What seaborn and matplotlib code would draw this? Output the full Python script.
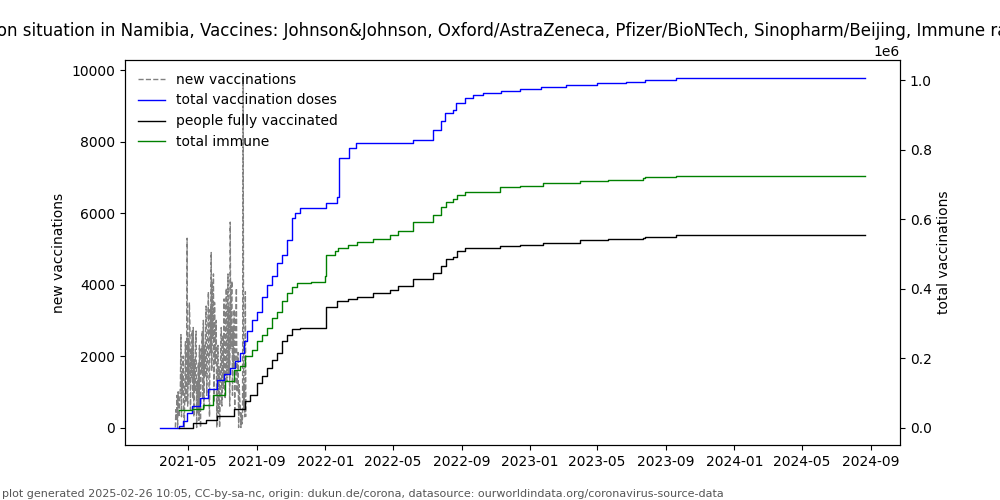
import matplotlib
matplotlib.use("Agg")
import matplotlib.pyplot as plt
import matplotlib.dates as mdates
import seaborn as sns
import pandas as pd

# ---------------- data ----------------
new_start = "2021-04-08"
new_vaccinations = [
    0, 500, 200, 900, 0, 1000, 600, 300, 800, 1200,
    2600, 300, 1500, 900, 2000, 600, 0, 1100, 2400, 700,
    1800, 5300, 600, 2500, 1200, 3500, 2900, 500, 2200, 1400,
    2700, 800, 2800, 300, 1900, 1000, 2400, 2700, 0, 1300,
    400, 1800, 200, 2300, 700, 0, 2200, 1500, 2700, 800,
    3000, 500, 2300, 1400, 2900, 3400, 900, 1900, 2600, 3800,
    1200, 300, 3300, 2100, 4900, 1600, 4100, 2500, 4300, 700,
    3500, 1800, 2400, 3000, 0, 1500, 2300, 400, 1700, 0,
    900, 2200, 2800, 600, 1900, 2600, 1100, 3600, 2000, 800,
    3100, 3900, 1300, 2700, 4300, 1500, 3400, 600, 5750, 2200,
    3700, 4100, 900, 2800, 1700, 3300, 500, 2400, 3000, 3900,
    1000, 1600, 2100, 0, 1200, 800, 600, 0, 400, 100,
    300, 9800, 500, 1200, 300, 3800, 300,
]

total_dates = [
    "2021-03-12", "2021-04-14", "2021-04-22", "2021-04-29", "2021-05-08",
    "2021-05-22", "2021-06-05", "2021-06-21", "2021-07-03", "2021-07-15",
    "2021-07-24", "2021-08-02", "2021-08-09", "2021-08-14", "2021-08-23",
    "2021-08-31", "2021-09-09", "2021-09-18", "2021-09-27", "2021-10-06",
    "2021-10-15", "2021-10-24", "2021-11-02", "2021-11-08", "2021-11-17",
    "2022-01-02", "2022-01-21", "2022-01-25", "2022-02-12", "2022-02-24",
    "2022-06-06", "2022-07-12", "2022-07-27", "2022-08-02", "2022-08-17",
    "2022-08-23", "2022-09-07", "2022-09-21", "2022-10-09", "2022-11-10",
    "2022-12-14", "2023-01-20", "2023-03-07", "2023-04-30", "2023-06-22",
    "2023-07-25", "2023-09-19", "2024-08-21",
]
total_doses = [
    0, 5000, 20000, 43000, 62000,
    86000, 112000, 138000, 155000, 172000,
    192000, 216000, 250000, 277000, 310000,
    334000, 377000, 411000, 435000, 473000,
    497000, 540000, 603000, 617000, 631000,
    646000, 665000, 775000, 804000, 818000,
    828000, 858000, 883000, 906000, 914000,
    935000, 949000, 957000, 962000, 969000,
    976000, 981000, 986000, 991000, 995000,
    1002000, 1008000, 1008000,
]

people_dates = [
    "2021-04-14", "2021-05-10", "2021-06-01", "2021-06-21", "2021-07-21",
    "2021-08-11", "2021-08-19", "2021-08-31", "2021-09-09", "2021-09-18",
    "2021-09-27", "2021-10-06", "2021-10-15", "2021-10-24", "2021-11-02",
    "2021-11-17", "2022-01-02", "2022-01-21", "2022-02-11", "2022-02-26",
    "2022-03-27", "2022-04-26", "2022-05-11", "2022-06-07", "2022-07-12",
    "2022-07-27", "2022-08-04", "2022-08-17", "2022-08-24", "2022-09-07",
    "2022-11-08", "2022-12-14", "2023-01-25", "2023-03-31", "2023-05-20",
    "2023-07-22", "2023-07-25", "2023-09-19", "2024-08-21",
]
people_fully = [
    0, 13500, 22000, 33000, 52000,
    76000, 95000, 128000, 147000, 172000,
    195000, 215000, 248000, 267000, 284000,
    286000, 346000, 363000, 370000, 377000,
    387000, 397000, 408000, 429000, 446000,
    464000, 485000, 492000, 507000, 516000,
    523000, 526000, 531000, 540000, 543000,
    545000, 550000, 553000, 553000,
]

immune_dates = [
    "2021-04-14", "2021-05-08", "2021-05-28", "2021-06-15", "2021-07-06",
    "2021-07-21", "2021-08-02", "2021-08-11", "2021-08-23", "2021-08-31",
    "2021-09-09", "2021-09-18", "2021-09-27", "2021-10-06", "2021-10-15",
    "2021-10-24", "2021-11-02", "2021-11-11", "2021-12-07", "2021-12-16",
    "2021-12-31", "2022-01-02", "2022-01-18", "2022-01-24", "2022-02-11",
    "2022-02-26", "2022-03-27", "2022-04-26", "2022-05-11", "2022-06-07",
    "2022-07-12", "2022-07-27", "2022-08-04", "2022-08-17", "2022-08-24",
    "2022-09-07", "2022-11-08", "2022-12-14", "2023-01-25", "2023-03-31",
    "2023-05-20", "2023-07-22", "2023-07-25", "2023-09-19", "2024-08-21",
]
total_immune = [
    49000, 54000, 66000, 95000, 133000,
    167000, 176000, 205000, 224000, 248000,
    267000, 286000, 315000, 334000, 363000,
    387000, 406000, 416000, 418000, 420000,
    435000, 497000, 507000, 516000, 525000,
    533000, 542000, 555000, 567000, 593000,
    612000, 636000, 650000, 657000, 670000,
    679000, 692000, 696000, 703000, 710000,
    714000, 718000, 722000, 725000, 725000,
]

title = ("Vaccination situation in Namibia, Vaccines: Johnson&Johnson, Oxford/AstraZeneca, "
         "Pfizer/BioNTech, Sinopharm/Beijing, Immune rate: 28.44 %")
footer = ("plot generated 2025-02-26 10:05, CC-by-sa-nc, origin: dukun.de/corona, "
          "datasource: ourworldindata.org/coronavirus-source-data")

# ---------------- frames ----------------
df_new = pd.DataFrame({
    "date": pd.date_range(new_start, periods=len(new_vaccinations), freq="D"),
    "value": new_vaccinations,
})
df_doses = pd.DataFrame({"date": pd.to_datetime(total_dates), "value": total_doses})
df_people = pd.DataFrame({"date": pd.to_datetime(people_dates), "value": people_fully})
df_immune = pd.DataFrame({"date": pd.to_datetime(immune_dates), "value": total_immune})

# ---------------- plot ----------------
fig, ax = plt.subplots(figsize=(10, 5), dpi=100)
fig.subplots_adjust(left=0.125, right=0.9, bottom=0.11, top=0.88)
ax2 = ax.twinx()

sns.lineplot(data=df_new, x="date", y="value", ax=ax, color="gray",
             linestyle="--", linewidth=1, estimator=None, label="new vaccinations",
             legend=False)
sns.lineplot(data=df_doses, x="date", y="value", ax=ax2, color="blue",
             linewidth=1, estimator=None, drawstyle="steps-post",
             label="total vaccination doses", legend=False)
sns.lineplot(data=df_people, x="date", y="value", ax=ax2, color="black",
             linewidth=1, estimator=None, drawstyle="steps-post",
             label="people fully vaccinated", legend=False)
sns.lineplot(data=df_immune, x="date", y="value", ax=ax2, color="green",
             linewidth=1, estimator=None, drawstyle="steps-post",
             label="total immune", legend=False)

ax.set_xlabel("")
ax2.set_xlabel("")
ax.set_ylabel("new vaccinations")
ax2.set_ylabel("total vaccinations")
ax.set_title(title)

ax.xaxis.set_major_locator(mdates.MonthLocator(bymonth=[1, 5, 9]))
ax.xaxis.set_major_formatter(mdates.DateFormatter("%Y-%m"))

h1, l1 = ax.get_legend_handles_labels()
h2, l2 = ax2.get_legend_handles_labels()
ax.legend(h1 + h2, l1 + l2, loc="upper left", frameon=False)

fig.text(0.002, 0.002, footer, fontsize=8, color="#555555", ha="left", va="bottom")

fig.savefig("out.png", dpi=100)
